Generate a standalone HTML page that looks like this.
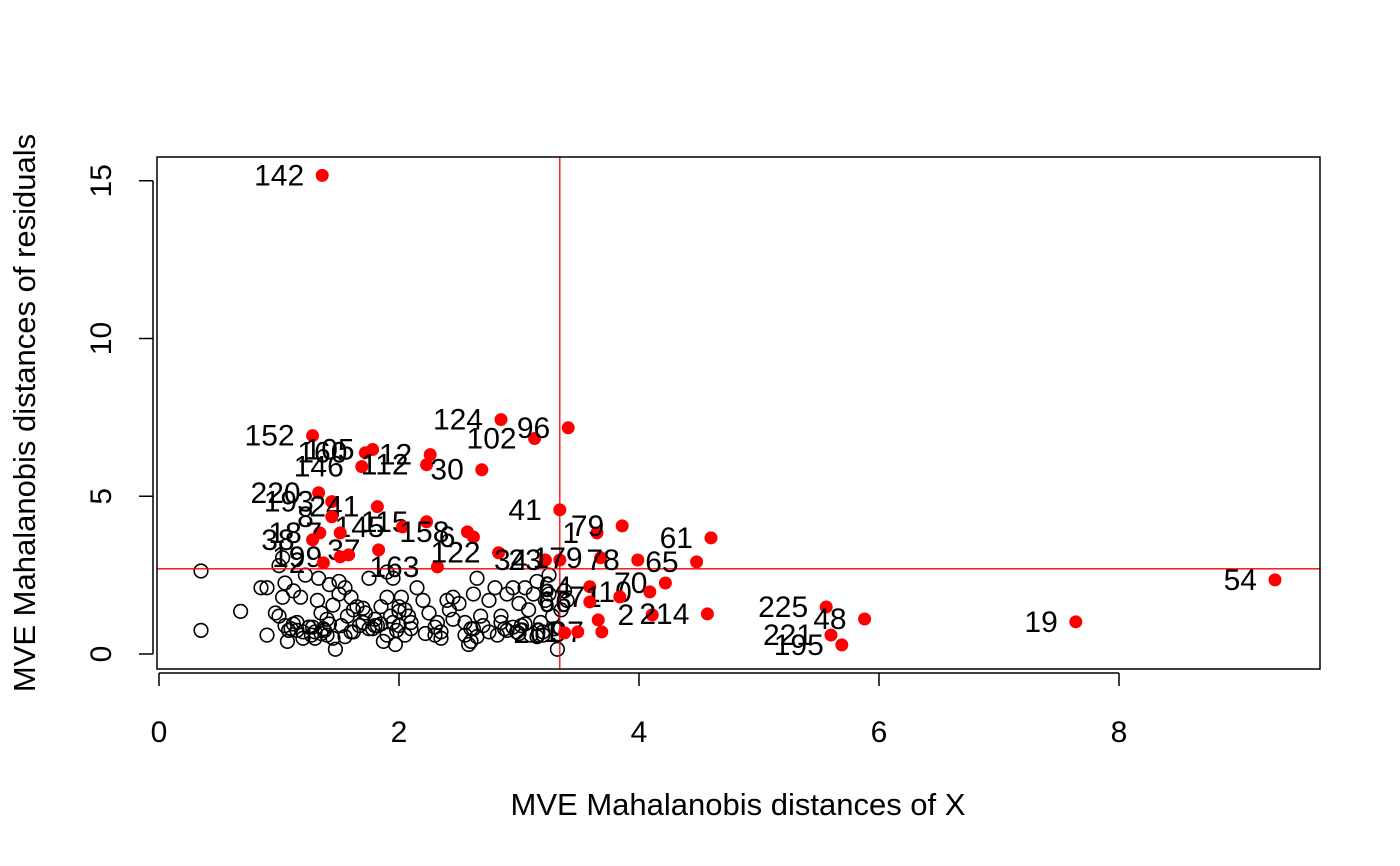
<!DOCTYPE html>
<html><head><meta charset="utf-8"><style>
html,body{margin:0;padding:0;background:#fff;}
svg{display:block;font-family:"Liberation Sans",Arial,sans-serif;}
</style></head><body>
<svg id="chart" width="1400" height="866" viewBox="0 0 1400 866" xmlns="http://www.w3.org/2000/svg">
<rect x="0" y="0" width="1400" height="866" fill="#fff"/>
<g id="marks"></g>
<rect x="157" y="157" width="1163" height="512" fill="none" stroke="#000" stroke-width="1.5"/>
<g id="axes"></g>
<text x="738" y="815" font-size="31" text-anchor="middle">MVE Mahalanobis distances of X</text>
<text transform="translate(35,413) rotate(-90)" font-size="31" text-anchor="middle">MVE Mahalanobis distances of residuals</text>
</svg>
<script>
const xTicks=[0,2,4,6,8];
const yTicks=[0,5,10,15];
const cutX=3.34;
const cutY=2.70;
const blackX=[0.35,0.35,0.68,0.85,0.9,0.9,0.97,1.0,1.0,1.03,1.03,1.05,1.05,1.07,1.1,1.12,1.15,1.18,1.2,1.22,1.25,1.27,1.3,1.32,1.33,1.35,1.37,1.4,1.4,1.42,1.45,1.47,1.5,1.52,1.55,1.57,1.6,1.62,1.65,1.67,1.7,1.72,1.75,1.75,1.8,1.82,1.85,1.87,1.9,1.9,1.93,1.95,1.97,2.0,2.0,2.02,2.05,2.08,2.1,2.15,2.2,2.25,2.3,2.32,2.35,2.4,2.42,2.45,2.5,2.55,2.58,2.6,2.62,2.65,2.68,2.7,2.75,2.8,2.82,2.85,2.88,2.9,2.95,2.98,3.0,3.02,3.05,3.08,3.1,3.12,3.15,3.18,3.2,3.22,3.25,3.28,3.3,3.32,3.35,3.38,3.4,3.25,1.12,1.28,1.6,1.95,2.05,2.35,2.6,2.9,3.0,1.15,1.35,1.45,1.55,1.7,1.85,2.0,2.3,2.45,2.65,2.75,3.05,3.15,1.25,1.5,1.8,2.1,2.55,2.85,1.3,1.9,1.2,1.38,1.62,1.78,1.98,2.22,2.62,2.95,3.2,1.08,1.42];
const blackY=[2.63,0.75,1.35,2.1,2.1,0.6,1.3,1.2,2.8,3.05,1.8,2.25,0.9,0.4,0.8,2.0,1.0,1.8,0.7,2.5,0.85,0.6,0.5,1.7,2.4,1.3,0.8,1.1,0.6,2.2,0.5,0.15,1.9,0.9,2.1,1.2,0.7,1.4,1.5,0.9,1.0,1.3,2.4,0.8,1.1,0.9,1.5,0.4,1.8,0.6,1.2,2.4,0.3,1.5,0.9,1.8,0.6,1.2,0.8,2.1,1.7,1.3,0.6,1.0,0.5,1.7,1.4,1.8,1.6,1.0,0.3,0.8,1.9,2.4,1.2,0.9,1.7,2.1,0.6,1.2,0.8,1.9,2.1,0.7,1.6,0.9,2.1,1.4,0.6,1.9,2.3,1.0,0.7,1.7,2.5,1.2,0.8,0.15,1.4,2.0,1.7,1.9,0.95,0.85,1.8,1.0,1.4,0.7,0.4,0.75,0.65,0.75,0.65,1.55,0.55,1.45,0.95,1.35,0.85,1.1,0.55,0.7,0.95,0.55,0.85,2.3,0.9,1.0,0.6,1.0,0.7,2.6,0.5,0.75,0.7,0.8,0.75,0.65,0.8,0.85,0.6,0.75,0.95,0.9];
const redX=[1.36,1.28,1.72,1.78,1.69,2.26,2.23,2.69,2.85,3.13,3.41,1.33,1.44,1.82,2.23,2.03,2.57,2.62,1.83,1.51,1.58,1.37,2.32,3.34,3.65,3.86,2.83,3.22,3.34,3.68,3.99,4.48,4.6,4.22,4.09,3.59,3.84,3.59,3.66,3.69,4.11,4.57,3.38,3.49,1.34,1.51,1.28,1.44,5.56,5.88,5.6,5.69,7.64,9.3];
const redY=[15.17,6.92,6.38,6.48,5.94,6.32,6.0,5.84,7.43,6.83,7.17,5.11,4.83,4.67,4.19,4.03,3.87,3.71,3.3,3.08,3.14,2.89,2.76,4.57,3.84,4.06,3.21,2.98,2.98,3.05,2.98,2.92,3.68,2.25,1.97,2.13,1.81,1.65,1.08,0.7,1.24,1.27,0.67,0.7,3.84,3.84,3.62,4.35,1.49,1.11,0.6,0.29,1.02,2.35];
const redLabels=["142","152","160","105","146","12","112","30","124","102","96","220","193","241","115","145","158","6","37","199","","2","163","41","1","79","122","34","23","179","78","65","61","70","110","64","71","66","","97","2","214","20","1","18","7","38","8","225","48","221","195","19","54"];

const NS="http://www.w3.org/2000/svg";
const sx=v=>159+120*v;
const sy=v=>654-31.55*v;
const marks=document.getElementById('marks');
const axes=document.getElementById('axes');
function mk(tag,attrs,parent){const e=document.createElementNS(NS,tag);for(const k in attrs)e.setAttribute(k,attrs[k]);parent.appendChild(e);return e;}

blackX.forEach((x,i)=>{
  const c=mk('circle',{cx:sx(x),cy:sy(blackY[i]),r:6.8,fill:'none',stroke:'#000','stroke-width':1.6},marks);
  
  
});
const vl=mk('line',{x1:sx(cutX),x2:sx(cutX),y1:157,y2:669,stroke:'#f00','stroke-width':1.3},marks);


const hl=mk('line',{x1:157,x2:1320,y1:sy(cutY),y2:sy(cutY),stroke:'#f00','stroke-width':1.3},marks);


redX.forEach((x,i)=>{
  const c=mk('circle',{cx:sx(x),cy:sy(redY[i]),r:6.5,fill:'#f00'},marks);
  
  
  if(redLabels[i]){
    const t=mk('text',{x:sx(x)-18,y:sy(redY[i])+10,'font-size':30,'text-anchor':'end',fill:'#000'},marks);
    t.textContent=redLabels[i];
    
    
  }
});
const xa=mk('line',{x1:sx(0),x2:sx(8),y1:673,y2:673,stroke:'#000','stroke-width':1.5},axes);


xTicks.forEach(v=>{
  const l=mk('line',{x1:sx(v),x2:sx(v),y1:673,y2:686,stroke:'#000','stroke-width':1.5},axes);
  
  
  const t=mk('text',{x:sx(v),y:742,'font-size':30,'text-anchor':'middle'},axes);
  t.textContent=v;
  
  
});
const ya=mk('line',{x1:153,x2:153,y1:sy(0),y2:sy(15),stroke:'#000','stroke-width':1.5},axes);


yTicks.forEach(v=>{
  const l=mk('line',{x1:139,x2:153,y1:sy(v),y2:sy(v),stroke:'#000','stroke-width':1.5},axes);
  
  
  const t=mk('text',{transform:`translate(111,${sy(v)}) rotate(-90)`,'font-size':30,'text-anchor':'middle'},axes);
  t.textContent=v;
  
  
});
</script>
</body></html>
